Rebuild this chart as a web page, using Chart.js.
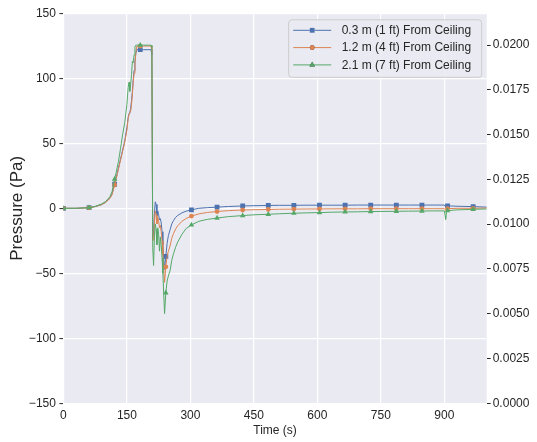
<!DOCTYPE html>
<html><head><meta charset="utf-8">
<script src="https://cdn.jsdelivr.net/npm/chart.js@4/dist/chart.umd.min.js"></script>
<style>html,body{margin:0;padding:0;background:#fff;}#wrap{width:537px;height:442px;}</style>
</head><body><div id="wrap"><canvas id="c" width="537" height="442"></canvas></div>
<script>
// ---- data ----
const timeSec = [0,30,60.5,75,90,100,110,115,121,125,130,135,140,145,150,153,155,157,159,161,163,165,167,169,171,173,181.5,190,200,207,209,211,213,215,217,219,221,223,225,227,229,231,233,235,237,239,242,245,248,252,256,260,265,270,280,290,302.5,320,340,363,390,423.5,450,484,510,544.5,575,605,635,665.5,695,726,755,786.5,815,847,875,900,902,903,905,907.5,930,968,1000];
const ceiling03 = [0,0,0.5,1.3,2.8,4.6,8,11,18.5,24,31,38,45,52,62,70,73,74,77,83,90,99,106,113,119,122,122,122,122,122,118,-22,-18,-4,5,3,-6,-2,-5,-9,-8,-11,-18,-28,-38,-47,-37,-27,-21,-16.5,-12,-9.5,-7,-5.5,-3.5,-2.2,-1.2,0,0.5,0.9,1.4,1.8,2,2.2,2.3,2.3,2.4,2.4,2.4,2.4,2.5,2.5,2.5,2.5,2.5,2.5,2.5,2.5,1.5,1.0,2.0,1.9,1.6,1.3,0.9];
const ceiling12 = [0,0,0.4,1.3,2.8,4.6,7.6,10.5,18,23,30,37,44,51,60,69,72,72,75,80,88,97,104,111,119,124.5,124.8,124.8,124.8,124.8,121,-25,-24,-11,-2,-5,-12,-7,-10,-15,-13,-18,-25,-36,-47,-57,-45,-37,-33,-29,-23,-19.5,-16,-13.5,-10,-7.8,-6,-4.3,-3.2,-2.5,-1.8,-1.3,-1.1,-0.9,-0.7,-0.6,-0.5,-0.5,-0.4,-0.4,-0.4,-0.3,-0.3,-0.3,-0.3,-0.3,-0.3,-0.3,-1.0,-1.5,-0.8,-0.3,0,0,0.2];
const ceiling21 = [0,0,0.5,1.5,3.3,5.3,9,13,22.5,28,36,46,57,66,80,93,97,90,96,103,113,112,118,124,125.5,125.5,125.5,125.5,125.5,125.5,124,-30,-44,-22,-12,-16,-28,-15,-20,-33,-22,-28,-38,-50,-66,-81,-65,-56,-52,-48,-40,-35,-30,-26,-20,-15.5,-12.8,-10,-8.5,-7.5,-6.4,-5.6,-5,-4.6,-4.2,-3.8,-3.5,-3.3,-3.0,-2.8,-2.7,-2.5,-2.4,-2.3,-2.2,-2.1,-2.0,-2.0,-6,-8.5,-3,-1.8,-1.2,-0.8,-0.5];
const seriesLabels = ['0.3 m (1 ft) From Ceiling','1.2 m (4 ft) From Ceiling','2.1 m (7 ft) From Ceiling'];
const xTicks = [0,150,300,450,600,750,900];
const leftTicks = [-150,-100,-50,0,50,100,150];
const rightTicks = [0,0.0025,0.005,0.0075,0.01,0.0125,0.015,0.0175,0.02];
const markerEvery = 60.5;

// ---- style ----
const colors = ['#4C72B0','#DD8452','#55A868'];
const styles = ['rect','circle','triangle'];
const radii = [3.4,2.4,3.2];
const FONT = 'Liberation Sans, Arial, sans-serif';
const TXT = '#262626';

function isMarker(t){ const q=t/markerEvery; return Math.abs(q-Math.round(q))<1e-9; }
function mk(arr,i){
  return {
    label: seriesLabels[i],
    data: timeSec.map((t,k)=>({x:t,y:arr[k]})),
    borderColor: colors[i], backgroundColor: colors[i],
    borderWidth: 1, tension: 0,
    pointStyle: styles[i],
    pointRadius: ctx => (ctx.raw && isMarker(ctx.raw.x)) ? radii[i] : 0,
    pointHoverRadius: 0,
    pointBorderWidth: 0,
    pointBackgroundColor: colors[i],
    order: 2 - i
  };
}

const bgPlugin = {
  id:'bg',
  beforeDraw(chart){
    const {ctx, chartArea:a} = chart;
    ctx.save(); ctx.fillStyle='#EAEAF2';
    ctx.fillRect(a.left,a.top,a.right-a.left,a.bottom-a.top); ctx.restore();
  },
  afterDraw(chart){
    const {ctx, chartArea:a} = chart;
    ctx.save();
    const bw=193, bh=57.5, bx=a.right-bw-5.5, by=a.top+6;
    ctx.beginPath();
    if (ctx.roundRect) ctx.roundRect(bx+0.5,by+0.5,bw,bh,3); else ctx.rect(bx+0.5,by+0.5,bw,bh);
    ctx.fillStyle='rgba(234,234,242,0.85)'; ctx.fill();
    ctx.strokeStyle='#cccccc'; ctx.lineWidth=1; ctx.stroke();
    ctx.font='12px '+FONT; ctx.textBaseline='middle'; ctx.textAlign='left';
    for(let i=0;i<3;i++){
      const y = by + 11 + i*17.3;
      const x0 = bx+5, x1 = bx+43, xm=(x0+x1)/2;
      ctx.strokeStyle=colors[i]; ctx.lineWidth=1;
      ctx.beginPath(); ctx.moveTo(x0,y); ctx.lineTo(x1,y); ctx.stroke();
      Chart.helpers.drawPoint(ctx,{pointStyle:styles[i],radius:radii[i],rotation:0,borderWidth:0},xm,y);
      ctx.fillStyle=colors[i]; ctx.fill();
      ctx.fillStyle=TXT; ctx.fillText(seriesLabels[i], bx+53.5, y+0.5);
    }
    ctx.restore();
  }
};

const fmtMinus = v => (v<0 ? '\u2212'+Math.abs(v) : String(v));

new Chart(document.getElementById('c'), {
  type:'line',
  data:{ datasets:[mk(ceiling03,0), mk(ceiling12,1), mk(ceiling21,2)] },
  options:{
    responsive:false, animation:false, devicePixelRatio:1,
    layout:{padding:{top:13.3,left:0,right:0,bottom:0}},
    plugins:{legend:{display:false}, tooltip:{enabled:false}},
    events:[],
    scales:{
      x:{ type:'linear', position:'bottom', min:0, max:1000,
        afterBuildTicks:s=>{ s.ticks = xTicks.map(v=>({value:v})); },
        afterFit:s=>{ s.height = 38.7; },
        grid:{color:'#ffffff', lineWidth:1.2, drawTicks:false},
        border:{display:false},
        ticks:{color:TXT, font:{family:FONT,size:12}, padding:5, maxRotation:0, callback:v=>String(v)},
        title:{display:true, text:'Time (s)', color:TXT, font:{family:FONT,size:12}, padding:{top:0,bottom:3.8}}
      },
      y:{ type:'linear', position:'left', min:-150, max:150,
        afterBuildTicks:s=>{ s.ticks = leftTicks.map(v=>({value:v})); },
        afterFit:s=>{ s.width = 63.4; },
        grid:{color:'#ffffff', lineWidth:1.2, drawTicks:true, tickLength:4, tickColor:TXT, tickWidth:1},
        border:{display:false},
        ticks:{color:TXT, font:{family:FONT,size:12}, padding:3.5, callback:v=>fmtMinus(v)},
        title:{display:true, text:'Pressure (Pa)', color:TXT, font:{family:FONT,size:17}, padding:{top:6.8,bottom:0}}
      },
      y2:{ type:'linear', position:'right', min:0, max:0.02177,
        afterBuildTicks:s=>{ s.ticks = rightTicks.map(v=>({value:v})); },
        afterFit:s=>{ s.width = 50.3; },
        grid:{drawOnChartArea:false, drawTicks:true, tickLength:4, tickColor:TXT, tickWidth:1},
        border:{display:false},
        ticks:{color:TXT, font:{family:FONT,size:12}, padding:2, callback:v=>Number(v).toFixed(4)}
      }
    }
  },
  plugins:[bgPlugin]
});
</script></body></html>
